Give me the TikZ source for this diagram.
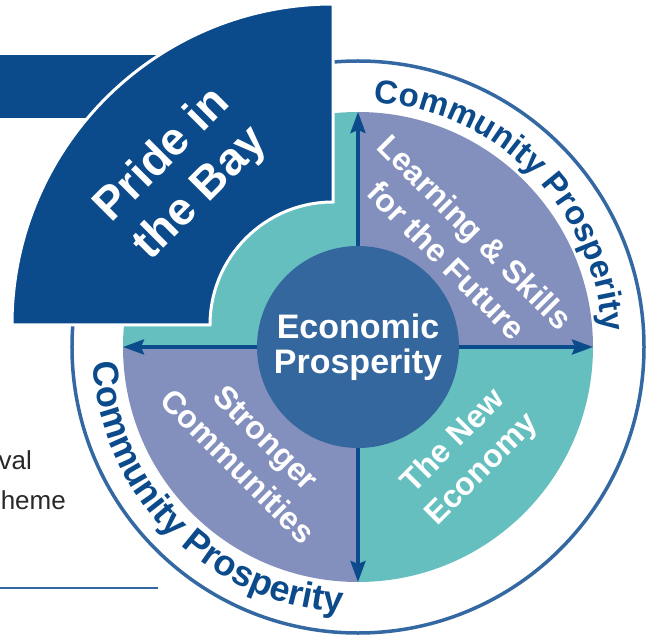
\documentclass[tikz,border=0pt]{standalone}
\usepackage{fontspec}
\setmainfont{Liberation Sans}
\usetikzlibrary{arrows.meta,decorations.text}
\pgfdeclarelayer{edgelayer}
\pgfdeclarelayer{nodelayer}
\pgfsetlayers{edgelayer,nodelayer,main}
\definecolor{navy}{RGB}{11,74,139}
\definecolor{ringblue}{RGB}{52,104,163}
\definecolor{hubblue}{RGB}{53,103,159}
\definecolor{lilac}{RGB}{131,144,189}
\definecolor{sea}{RGB}{102,191,191}
\definecolor{inkgrey}{RGB}{40,40,40}
\newcommand{\arcfonta}{\fontsize{33}{33}\selectfont\bfseries\color{navy}}
\newcommand{\arcfontb}{\fontsize{36}{36}\selectfont\bfseries\color{navy}}
\tikzstyle{none} = []
\tikzstyle{Hub} = [shape=circle, fill=hubblue, minimum size=202pt, inner sep=0pt, text=white, align=center, font=\fontsize{34}{35}\selectfont\bfseries]
\tikzstyle{Quarter Label} = [text=white, align=center, font=\fontsize{32}{40}\selectfont\bfseries]
\tikzstyle{Pride Label} = [text=white, align=center, rotate=45, font=\fontsize{46}{54}\selectfont\bfseries]
\tikzstyle{Side Text} = [text=inkgrey, anchor=base east, inner sep=0pt, font=\fontsize{26}{26}\selectfont]
\tikzstyle{Navy Arrow} = [-{Stealth[length=21pt, width=15pt, inset=3pt]}, draw=navy, line width=3.5pt]
\tikzstyle{Ring} = [draw=ringblue, line width=3.5pt]
\tikzstyle{Rule} = [-, draw=ringblue, line width=1.5pt]
\tikzstyle{Pride Shape} = [fill=navy, draw=white, line width=3pt]

\begin{document}
\begin{tikzpicture}[x=10pt, y=10pt]
	\clip (-35.8, -28.7) rectangle (29.2, 34.7);
	\begin{pgfonlayer}{nodelayer}
		\node [style=Hub] (0) at (0, 0) {Economic\\Prosperity};
		\node [style=none] (1) at (0, 23.5) {};
		\node [style=none] (2) at (23.5, 0) {};
		\node [style=none] (3) at (0, -23.5) {};
		\node [style=none] (4) at (-23.5, 0) {};
		\node [style=Pride Label] (5) at (-17.6, 17.2) {Pride in\\the Bay};
		\node [style=Quarter Label, rotate=-45] (6) at (10.3, 10.1) {Learning \& Skills\\for the Future};
		\node [style=Quarter Label, rotate=45] (7) at (11, -10.9) {The New\\Economy};
		\node [style=Quarter Label, rotate=-45] (8) at (-10.6, -10.5) {Stronger\\Communities};
		\node [style=Side Text] (9) at (-32.6, -12.2) {val};
		\node [style=Side Text] (10) at (-29.2, -16.2) {heme};
		\node [style=none] (11) at (-36, -24.1) {};
		\node [style=none] (12) at (-20, -24.1) {};
	\end{pgfonlayer}
	\begin{pgfonlayer}{edgelayer}
		\draw [style=Ring] (0, 0) circle (28.6);
		\foreach \a/\c in {0/lilac, 90/sea, 180/lilac, 270/sea}
			\fill [\c] (0, 0) -- (\a:23.5) arc [start angle=\a, delta angle=90, radius=23.5] -- cycle;
		\fill [navy] (-36, 22.9) rectangle (-15, 29.2);
		\draw [style=Pride Shape] (-2.5, 34.3) -- (-2.5, 14.5) arc [start angle=90, end angle=180, radius=12.3]
			-- (-34.6, 2.2) arc [start angle=180, end angle=90, radius=32.1] -- cycle;
		\draw [style=Navy Arrow] (0.north) to (1.center);
		\draw [style=Navy Arrow] (0.east) to (2.center);
		\draw [style=Navy Arrow] (0.south) to (3.center);
		\draw [style=Navy Arrow] (0.west) to (4.center);
		\draw [style=Rule] (11.center) to (12.center);
		\path [decorate, decoration={text along path, text align=center, text={|\arcfonta|Community Prosperity}}]
			(95:24.5) arc [start angle=95, end angle=-5, radius=24.5];
		\path [decorate, decoration={text along path, text align=center, text={|\arcfontb|Community Prosperity}}]
			(175:26.6) arc [start angle=175, end angle=275, radius=26.6];
	\end{pgfonlayer}
\end{tikzpicture}
\end{document}
